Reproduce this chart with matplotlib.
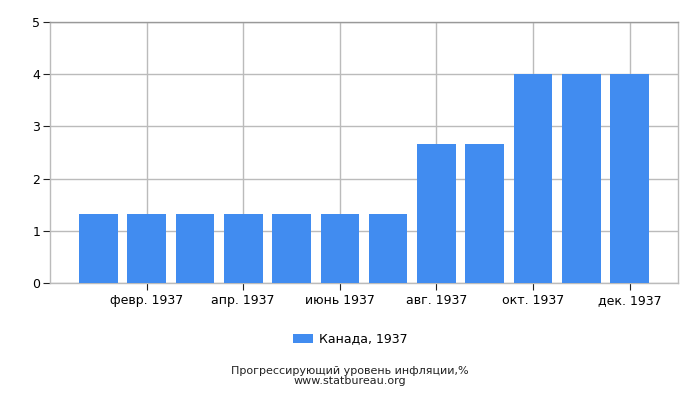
import matplotlib
matplotlib.use("Agg")
import matplotlib.pyplot as plt
import numpy as np

months = ["янв. 1937", "февр. 1937", "март 1937", "апр. 1937", "май 1937", "июнь 1937",
          "июль 1937", "авг. 1937", "сент. 1937", "окт. 1937", "нояб. 1937", "дек. 1937"]
values = [1.33, 1.33, 1.33, 1.33, 1.33, 1.33, 1.33, 2.67, 2.67, 4.0, 4.0, 4.0]
series_label = "Канада, 1937"
title = "Прогрессирующий уровень инфляции,%"
source = "www.statbureau.org"

plt.rcParams['font.family'] = ['DejaVu Sans']
fig = plt.figure(figsize=(7, 4), dpi=100)
ax = fig.add_axes([50/700, 117/400, 628/700, 261/400])

x = np.arange(len(months))
bars = ax.bar(x, values, width=0.8, color='#418cf0', label=series_label, zorder=3)

ax.set_xlim(-1, 12)
ax.set_ylim(0, 5)
ax.set_yticks(range(6))
tick_idx = x[1::2]
ax.set_xticks(tick_idx)
ax.set_xticklabels([months[i] for i in tick_idx], fontsize=9)
ax.tick_params(axis='y', labelsize=9, length=5, color='#222222', pad=2)
ax.tick_params(axis='x', length=5, color='#222222', pad=3)
ax.grid(True, color='#bbbbbb', linewidth=1, zorder=0)
for s in ax.spines.values():
    s.set_color('#bbbbbb')
    s.set_linewidth(1)
ax.spines['top'].set_color('#999999')

fig.legend(handles=[bars], labels=[series_label], loc='center', bbox_to_anchor=(0.5, 1 - 339/400),
           frameon=False, fontsize=9, handlelength=1.6, handleheight=0.7, handletextpad=0.5)
fig.text(0.5, 1 - 376/400, title + "\n" + source, ha='center', va='center', fontsize=8,
         color='#222222', linespacing=0.95)

fig.savefig("out.png", dpi=100)
